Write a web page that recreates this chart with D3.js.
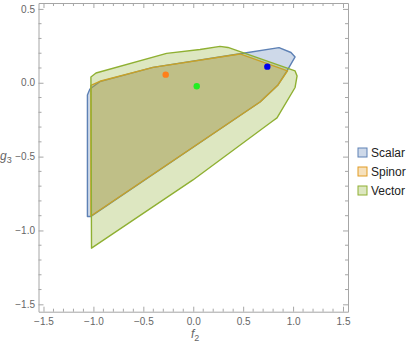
<!DOCTYPE html>
<html>
<head>
<meta charset="utf-8">
<script src="https://cdn.jsdelivr.net/npm/d3@7"></script>
<style>
  body { margin: 0; background: #fff; }
  text { font-family: "Liberation Sans", Arial, sans-serif; }
</style>
</head>
<body>
<svg id="chart" width="415" height="346"></svg>
<script>
// region outlines, [f2, g3]
let scalarPts = [[-1.060, -0.905], [-1.060, -0.083], [-1.035, -0.042], [-0.935, 0.008], [-0.403, 0.104],
    [0.468, 0.196], [0.859, 0.238], [0.979, 0.205], [1.020, 0.175], [0.939, 0.080],
    [0.849, -0.015], [0.669, -0.130], [-1.025, -0.905]];
let spinorPts = [[-1.025, -0.902], [-1.025, -0.018], [-0.935, 0.010], [-0.403, 0.104], [0.468, 0.195],
    [0.944, 0.080], [0.849, -0.015], [0.669, -0.130]];
let vectorPts = [[-1.019, -1.120], [-1.025, 0.039], [-0.974, 0.066], [-0.267, 0.199], [0.068, 0.225],
    [0.268, 0.246], [0.348, 0.239], [1.020, 0.080], [1.040, 0.046], [1.020, -0.032],
    [0.839, -0.238], [0.789, -0.262], [-0.003, -0.658]];

let seriesNames = ["Scalar", "Spinor", "Vector"];
let seriesPts = [scalarPts, spinorPts, vectorPts];
let seriesColors = ["#5E81B5", "#E19C24", "#8FB032"];

// marked points
let dotX = [-0.276, 0.035, 0.742];
let dotY = [0.055, -0.024, 0.109];
let dotColors = ["#ff7f1a", "#22ee22", "#0000ee"];

let majorTicks = [-1.5, -1.0, -0.5, 0.0, 0.5, 1.0, 1.5];

var svg = d3.select("#chart");

let x = d3.scaleLinear().domain([-1.55, 1.55]).range([38.5, 348]);
let y = d3.scaleLinear().domain([-1.55, 0.54]).range([311.7, 3]);

let fmt = (d) => d3.format(".1f")(d).replace("-", "\u2212");
let minor = d3.range(-15, 16).map(d => d / 10);

// regions
let line = d3.line().x(d => x(d[0])).y(d => y(d[1])).curve(d3.curveLinearClosed);
svg.selectAll(".region")
    .data(seriesPts)
    .enter()
    .append("path")
    .attr("class", "region")
    .attr("d", (d) => line(d))
    .attr("fill", (d, i) => seriesColors[i])
    .attr("fill-opacity", 0.3)
    .attr("stroke", (d, i) => seriesColors[i])
    .attr("stroke-width", 1.4)
    .attr("stroke-linejoin", "round");

svg.selectAll(".dot")
    .data(dotX)
    .enter()
    .append("circle")
    .attr("class", "dot")
    .attr("cx", (d) => x(d))
    .attr("cy", (d, i) => y(dotY[i]))
    .attr("r", 3.2)
    .attr("fill", (d, i) => dotColors[i]);

// frame with ticks on all sides
let frameColor = "#a6a6a6";
let axBottom = d3.axisBottom(x).tickValues(majorTicks).tickFormat(fmt).tickSizeInner(-5).tickSizeOuter(0).tickPadding(6);
let axLeft = d3.axisLeft(y).tickValues(majorTicks).tickFormat(fmt).tickSizeInner(-5).tickSizeOuter(0).tickPadding(3.5);
let axTop = d3.axisTop(x).tickValues(majorTicks).tickSizeInner(-5).tickSizeOuter(0);
let axRight = d3.axisRight(y).tickValues(majorTicks).tickSizeInner(-5).tickSizeOuter(0);

function styleAxis(g) {
    g.select(".domain").attr("stroke", frameColor);
    g.selectAll(".tick line").attr("stroke", frameColor);
    g.selectAll(".tick text").attr("fill", "#666").style("font-size", "10px");
}

svg.append("g").attr("transform", "translate(0," + y.range()[0] + ")").call(axBottom).call(styleAxis);
svg.append("g").attr("transform", "translate(" + x.range()[0] + ",0)").call(axLeft).call(styleAxis);
// top and right sides carry ticks only
svg.append("g").attr("transform", "translate(0," + y.range()[1] + ")").call(axTop).call(styleAxis)
    .selectAll(".tick text").remove();
svg.append("g").attr("transform", "translate(" + x.range()[1] + ",0)").call(axRight).call(styleAxis)
    .selectAll(".tick text").remove();

// minor ticks
let minorG = svg.append("g").attr("stroke", frameColor);
minor.filter(d => majorTicks.indexOf(d) < 0).forEach(function (d) {
    minorG.append("line").attr("x1", x(d)).attr("x2", x(d)).attr("y1", y.range()[0]).attr("y2", y.range()[0] - 3);
    minorG.append("line").attr("x1", x(d)).attr("x2", x(d)).attr("y1", y.range()[1]).attr("y2", y.range()[1] + 3);
});
minor.filter(d => majorTicks.indexOf(d) < 0 && d <= 0.54).forEach(function (d) {
    minorG.append("line").attr("y1", y(d)).attr("y2", y(d)).attr("x1", x.range()[0]).attr("x2", x.range()[0] + 3);
    minorG.append("line").attr("y1", y(d)).attr("y2", y(d)).attr("x1", x.range()[1]).attr("x2", x.range()[1] - 3);
});

// axis labels
let xl = svg.append("text").attr("x", 191).attr("y", 338).attr("fill", "#666").style("font-size", "12px");
xl.append("tspan").text("f").style("font-style", "italic");
xl.append("tspan").text("2").attr("dy", 3).style("font-size", "9px");
let yl = svg.append("text").attr("x", 0).attr("y", 160).attr("fill", "#666").style("font-size", "12px");
yl.append("tspan").text("g").style("font-style", "italic");
yl.append("tspan").text("3").attr("dy", 3).style("font-size", "9px");

// legend
let legend = svg.selectAll(".leg")
    .data(seriesNames)
    .enter()
    .append("g")
    .attr("class", "leg")
    .attr("transform", (d, i) => "translate(358," + (148 + i * 19) + ")");
legend.append("rect")
    .attr("width", 9).attr("height", 9)
    .attr("fill", (d, i) => seriesColors[i])
    .attr("fill-opacity", 0.3)
    .attr("stroke", (d, i) => seriesColors[i])
    .attr("stroke-width", 1);
legend.append("text")
    .attr("x", 13).attr("y", 9)
    .style("font-size", "12px")
    .attr("fill", "#222")
    .text((d) => d);
</script>
</body>
</html>
